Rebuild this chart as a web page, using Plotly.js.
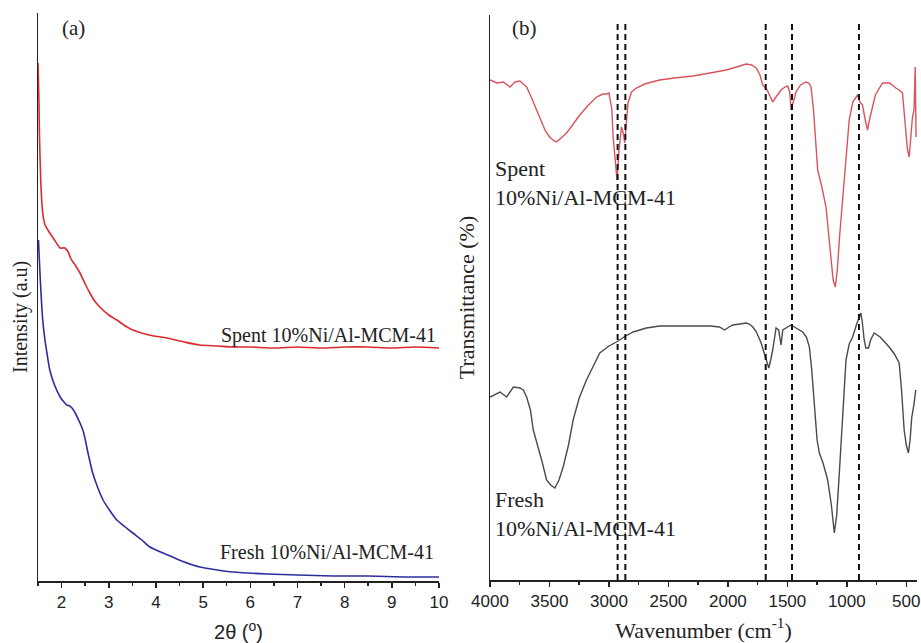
<!DOCTYPE html>
<html>
<head>
<meta charset="utf-8">
<script src="https://cdn.plot.ly/plotly-3.0.1.min.js"></script>
<style>html,body{margin:0;padding:0;background:#fff;}#chart{width:921px;height:643px;}</style>
</head>
<body>
<div id="chart"></div>
<script>
// ---------- Panel (a): low-angle XRD ----------
const xrdSpentX = [1.50,1.52,1.53,1.56,1.60,1.65,1.75,1.85,1.97,2.07,2.14,2.20,2.30,2.39,2.50,2.60,2.70,2.81,3.00,3.17,3.35,3.51,3.85,4.23,4.60,4.93,5.30,5.63,6.00,6.50,7.00,7.50,8.00,8.50,9.00,9.50,10.00];
const xrdSpentY = [518,480,448,398,368,356,348,341,333,333,329,322,315,308,297,288,280,274,266,261,255,251,246,243,239,236,235,234,234,233,234,233,234,234,233,234,233];

const xrdFreshX = [1.51,1.53,1.55,1.60,1.65,1.69,1.75,1.85,1.97,2.05,2.11,2.17,2.22,2.30,2.39,2.45,2.49,2.56,2.66,2.77,2.88,3.00,3.17,3.35,3.51,3.70,3.87,4.10,4.35,4.60,4.93,5.30,5.63,6.35,7.00,7.75,8.50,9.25,10.00];
const xrdFreshY = [341,320,300,261,240,228,211,196,184,179,176,175,173,167,158,151,144,128,108,93,81,72,61,54,48,41,34,29,24,19,14,11,9,7,6,5,5,4,4];

// ---------- Panel (b): FTIR ----------
const ftirSpentX = [4000,3940,3888,3832,3790,3748,3720,3692,3650,3608,3570,3538,3500,3460,3440,3400,3356,3300,3245,3180,3105,3050,3021,3000,2993,2975,2965,2950,2932,2915,2895,2880,2867,2855,2840,2810,2769,2700,2574,2450,2294,2150,2014,1900,1846,1800,1762,1730,1707,1670,1623,1590,1553,1520,1497,1480,1469,1450,1427,1390,1343,1320,1301,1280,1260,1245,1210,1175,1140,1115,1097,1080,1060,1036,1010,980,950,910,890,868,845,826,810,784,760,700,640,588,560,532,510,490,476,462,448,435,425,418];
const ftirSpentY = [500,497,498,493,498,499,496,493,482,470,458,450,443,439,438,442,447,456,465,474,483,486,486,487,483,470,443,420,400,430,453,447,437,455,477,488,492,496,500,502,504,507,510,514,516,515,512,505,495,490,478,484,490,493,494,488,470,478,488,495,498,497,493,470,430,410,393,373,330,300,293,310,345,380,420,460,478,485,478,475,460,450,460,473,485,497,497,492,490,487,460,430,423,440,463,470,513,443];

const ftirFreshX = [4000,3950,3916,3860,3804,3748,3720,3692,3660,3636,3600,3566,3524,3490,3455,3420,3385,3340,3301,3250,3189,3130,3077,3000,2937,2860,2797,2685,2574,2450,2294,2150,2070,2028,1990,1958,1900,1846,1820,1790,1760,1720,1690,1656,1640,1623,1595,1573,1560,1553,1545,1539,1497,1469,1427,1400,1371,1340,1315,1295,1273,1250,1231,1200,1161,1130,1105,1085,1063,1035,1007,980,951,920,882,870,854,840,818,800,770,720,644,600,560,540,518,500,482,468,454,440,430,420];
const ftirFreshY = [183,186,188,183,193,192,190,183,170,150,135,120,100,95,92,100,113,135,160,182,200,215,227,234,238,244,248,252,254,254,254,254,253,250,253,255,256,257,256,253,248,237,225,212,220,230,252,250,240,235,243,250,253,255,252,250,248,243,233,210,173,140,127,117,100,75,47,65,107,170,220,236,243,255,267,258,240,232,232,240,247,243,233,226,217,190,150,135,127,140,163,172,180,190];

// marked band positions (dashed lines), cm^-1
const bandLines = [2927, 2862, 1682, 1461, 898];
const bandTop = 557;

// tick labels
const xrdTicks = [2,3,4,5,6,7,8,9,10];
const ftirTicks = [4000,3500,3000,2500,2000,1500,1000,500];

const W = 921, H = 643;
const px = v => v / W;
const py = v => 1 - v / H;

const serif = "Liberation Serif, Times New Roman, serif";
const sans = "Liberation Sans, Arial, sans-serif";

const traces = [
  {x: xrdSpentX, y: xrdSpentY, xaxis: 'x', yaxis: 'y', mode: 'lines', name: 'Spent 10%Ni/Al-MCM-41',
   line: {color: '#dc2a2e', width: 1.6, shape: 'spline', smoothing: 0.6}},
  {x: xrdFreshX, y: xrdFreshY, xaxis: 'x', yaxis: 'y', mode: 'lines', name: 'Fresh 10%Ni/Al-MCM-41',
   line: {color: '#2d2d9e', width: 1.6, shape: 'spline', smoothing: 0.6}},
  {x: ftirSpentX, y: ftirSpentY, xaxis: 'x2', yaxis: 'y2', mode: 'lines', name: 'Spent 10%Ni/Al-MCM-41 (FTIR)',
   line: {color: '#d9545c', width: 1.4}},
  {x: ftirFreshX, y: ftirFreshY, xaxis: 'x2', yaxis: 'y2', mode: 'lines', name: 'Fresh 10%Ni/Al-MCM-41 (FTIR)',
   line: {color: '#4a4a4a', width: 1.4}}
];

const shapes = bandLines.map(w => ({
  type: 'line', xref: 'x2', yref: 'y2', x0: w, x1: w, y0: 0, y1: bandTop,
  line: {color: '#111', width: 2, dash: '6px,4px'}
}));

const axisCommon = {
  showline: true, linecolor: '#222', linewidth: 1.5, showgrid: false, zeroline: false,
  mirror: false
};

const layout = {
  width: W, height: H,
  margin: {l: 0, r: 0, t: 0, b: 0},
  paper_bgcolor: '#fff', plot_bgcolor: '#fff',
  showlegend: false,
  xaxis: Object.assign({}, axisCommon, {
    domain: [px(38), px(439)], range: [1.5, 10], anchor: 'y',
    ticks: 'outside', ticklen: 5, tickwidth: 1.5, tickcolor: '#222',
    tickvals: xrdTicks, ticktext: xrdTicks.map(String),
    minor: {dtick: 0.5, tick0: 1.5, ticks: 'outside', ticklen: 3, tickwidth: 1.5, tickcolor: '#222'},
    tickfont: {family: sans, size: 17, color: '#222'},
    title: {text: '2θ (<sup>o</sup>)', font: {family: sans, size: 20, color: '#222'}, standoff: 14}
  }),
  yaxis: Object.assign({}, axisCommon, {
    domain: [py(581), py(13)], range: [0, 568], anchor: 'x',
    showticklabels: false, ticks: ''
  }),
  xaxis2: Object.assign({}, axisCommon, {
    domain: [px(490), px(917)], range: [4000, 410], anchor: 'y2',
    ticks: 'outside', ticklen: 5, tickwidth: 1.5, tickcolor: '#222',
    tickvals: ftirTicks, ticktext: ftirTicks.map(String),
    minor: {dtick: 250, tick0: 0, ticks: 'outside', ticklen: 3, tickwidth: 1.5, tickcolor: '#222'},
    tickfont: {family: sans, size: 17, color: '#222'},
    title: {text: 'Wavenumber (cm<sup>-1</sup>)', font: {family: serif, size: 22, color: '#222'}, standoff: 12}
  }),
  yaxis2: Object.assign({}, axisCommon, {
    domain: [py(580), py(15)], range: [0, 565], anchor: 'x2',
    showticklabels: false, ticks: '',
    title: {text: 'Transmittance (%)', font: {family: serif, size: 22, color: '#222'}, standoff: 8}
  }),
  shapes: shapes,
  annotations: [
    {text: 'Intensity (a.u)', xref: 'paper', yref: 'paper', x: px(20), y: py(317), xanchor: 'center', yanchor: 'middle',
     textangle: -90, showarrow: false, font: {family: serif, size: 20, color: '#222'}},
    {text: '(a)', xref: 'paper', yref: 'paper', x: px(73), y: py(28), xanchor: 'center', yanchor: 'middle',
     showarrow: false, font: {family: serif, size: 21, color: '#222'}},
    {text: '(b)', xref: 'paper', yref: 'paper', x: px(524), y: py(28), xanchor: 'center', yanchor: 'middle',
     showarrow: false, font: {family: serif, size: 21, color: '#222'}},
    {text: 'Spent 10%Ni/Al-MCM-41', xref: 'paper', yref: 'paper', x: px(438), y: py(335), xanchor: 'right', yanchor: 'middle',
     showarrow: false, font: {family: serif, size: 20, color: '#222'}},
    {text: 'Fresh 10%Ni/Al-MCM-41', xref: 'paper', yref: 'paper', x: px(436), y: py(552), xanchor: 'right', yanchor: 'middle',
     showarrow: false, font: {family: serif, size: 20, color: '#222'}},
    {text: 'Spent<br>10%Ni/Al-MCM-41', xref: 'paper', yref: 'paper', x: px(493), y: py(183), xanchor: 'left', yanchor: 'middle', align: 'left',
     showarrow: false, font: {family: serif, size: 22, color: '#222'}},
    {text: 'Fresh<br>10%Ni/Al-MCM-41', xref: 'paper', yref: 'paper', x: px(493), y: py(514), xanchor: 'left', yanchor: 'middle', align: 'left',
     showarrow: false, font: {family: serif, size: 22, color: '#222'}}
  ]
};

Plotly.newPlot('chart', traces, layout, {displayModeBar: false, staticPlot: true});
</script>
</body>
</html>
